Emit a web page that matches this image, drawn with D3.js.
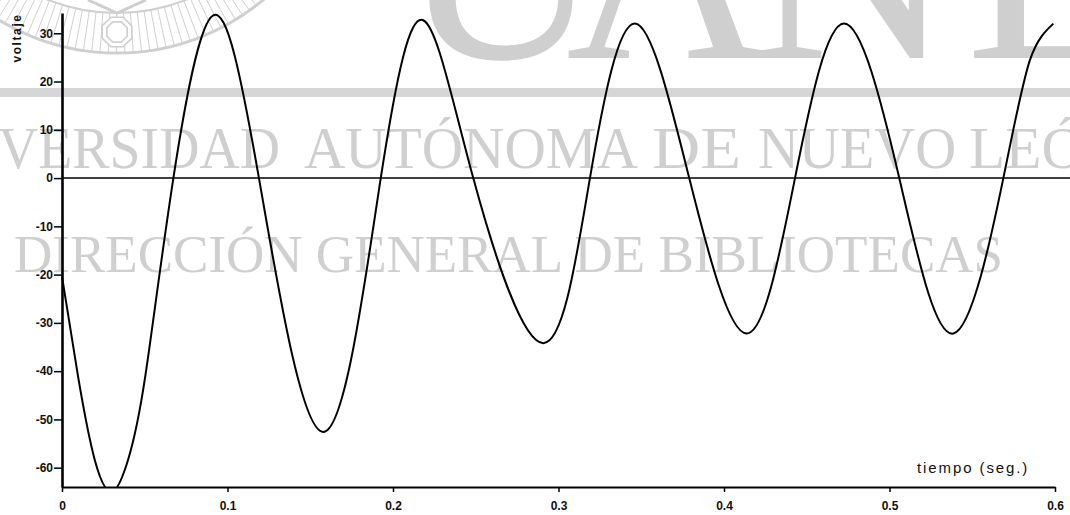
<!DOCTYPE html>
<html><head><meta charset="utf-8">
<script src="https://cdn.jsdelivr.net/npm/d3@7"></script>
<style>html,body{margin:0;padding:0;background:#fff;overflow:hidden}</style>
</head><body>
<svg id="chart" width="1070" height="515"></svg>
<script>
// ---- data ----
const tiempo = [0, 0.0097, 0.0198, 0.0302, 0.0399, 0.0503,
  0.0673, 0.0914, 0.1190, 0.1579, 0.1926, 0.2183, 0.2485, 0.2908, 0.3190,
  0.3462, 0.3790, 0.4137, 0.4429, 0.4725, 0.5059, 0.5386, 0.5688, 0.5849, 0.5990];
const voltaje = [-20.4, -41.1, -58.4, -65, -58.4, -41.1,
  0, 33.7, 0, -52.6, 0, 32.7, 0, -34.2, 0,
  32, 0, -32.2, 0, 32, 0, -32.2, 0, 24.5, 32];
const xTicks = [0, 0.1, 0.2, 0.3, 0.4, 0.5, 0.6];
const xTickLabels = ["0", "0.1", "0.2", "0.3", "0.4", "0.5", "0.6"];
const yTicks = [30, 20, 10, 0, -10, -20, -30, -40, -50, -60];
const yTickLabels = ["30", "20", "10", "0", "-10", "-20", "-30", "-40", "-50", "-60"];
const xTitle = "tiempo (seg.)";
const yTitle = "voltaje";
const watermarkLetters = ["U", "A", "N", "L"];
const watermarkLine1 = ["VERSIDAD", "AUTÓNOMA", "DE", "NUEVO", "LEÓN"];
const watermarkLine2 = "DIRECCIÓN GENERAL DE BIBLIOTECAS";

// ---- setup ----
const svg = d3.select("#chart");
const x = d3.scaleLinear().domain([0, 0.6]).range([62, 1055]);
const y = d3.scaleLinear().domain([-64, 34.2]).range([487, 13]);
const GRAY = "#cfcfcf";
const SERIF = "'Liberation Serif', 'DejaVu Serif', serif";

// ---- watermark ----
const wm = svg.append("g").attr("class", "watermark");
const ecx = 117, ecy = -174.6, rOut = 227.6, rIn = 187.6;
wm.append("circle").attr("cx", ecx).attr("cy", ecy).attr("r", rOut)
  .attr("fill", "none").attr("stroke", GRAY).attr("stroke-width", 3);
wm.append("circle").attr("cx", ecx).attr("cy", ecy).attr("r", rIn)
  .attr("fill", "none").attr("stroke", GRAY).attr("stroke-width", 2);
const rays = d3.range(-40, 40.1, 2.1);
wm.selectAll("line.ray").data(rays).join("line").attr("class", "ray")
  .attr("x1", d => ecx + rIn * Math.sin(d * Math.PI / 180))
  .attr("y1", d => ecy + rIn * Math.cos(d * Math.PI / 180))
  .attr("x2", d => ecx + rOut * Math.sin(d * Math.PI / 180))
  .attr("y2", d => ecy + rOut * Math.cos(d * Math.PI / 180))
  .attr("stroke", GRAY).attr("stroke-width", 1);
wm.append("path").attr("d", "M88,0 L117,13 L146,0").attr("fill", "none")
  .attr("stroke", GRAY).attr("stroke-width", 3);
function octagon(cx, cy, r) {
  return d3.range(8).map(i => {
    const a = Math.PI / 8 + i * Math.PI / 4;
    return [cx + r * Math.cos(a), cy + r * Math.sin(a)];
  });
}
wm.append("polygon").attr("points", octagon(117, 32, 16).join(" "))
  .attr("fill", "#fff").attr("stroke", GRAY).attr("stroke-width", 1.6);
wm.append("polygon").attr("points", octagon(117, 32, 11).join(" "))
  .attr("fill", "#fff").attr("stroke", GRAY).attr("stroke-width", 1.6);

const letterPos = [[501, "middle"], [667, "middle"], [852, "middle"], [966, "start"]];
wm.selectAll("text.big").data(watermarkLetters).join("text").attr("class", "big")
  .attr("x", (d, i) => letterPos[i][0]).attr("y", 58)
  .attr("text-anchor", (d, i) => letterPos[i][1])
  .attr("font-family", SERIF).attr("font-size", 280).attr("fill", GRAY).text(d => d);

wm.append("rect").attr("x", 0).attr("y", 88).attr("width", 1070).attr("height", 9)
  .attr("fill", "#d6d6d6");

const wordPos = [[-2, 282], [304, 334], [652, 89], [758, 198], [969, 158]];
wm.selectAll("text.l1").data(watermarkLine1).join("text").attr("class", "l1")
  .attr("x", (d, i) => wordPos[i][0]).attr("y", 168)
  .attr("textLength", (d, i) => wordPos[i][1]).attr("lengthAdjust", "spacingAndGlyphs")
  .attr("font-family", SERIF).attr("font-size", 60).attr("fill", GRAY).text(d => d);
wm.append("text").attr("x", 14).attr("y", 272)
  .attr("font-family", SERIF).attr("font-size", 52).attr("fill", GRAY)
  .attr("textLength", 989).attr("lengthAdjust", "spacingAndGlyphs")
  .text(watermarkLine2);

// ---- chart ----
const FONT = "'Liberation Sans', Arial, sans-serif";

svg.append("line").attr("x1", x(0)).attr("x2", 1070).attr("y1", y(0)).attr("y2", y(0))
  .attr("stroke", "#000").attr("stroke-width", 1.5);

const yAxis = svg.append("g").attr("transform", `translate(${x(0)},0)`)
  .call(d3.axisLeft(y).tickValues(yTicks).tickSize(8).tickSizeOuter(0).tickPadding(1)
    .tickFormat((d, i) => yTickLabels[i]));
yAxis.select(".domain").attr("stroke-width", 2.6);
yAxis.selectAll(".tick line").attr("stroke-width", 1.5);
yAxis.selectAll("text").attr("font-family", FONT).attr("font-size", 12)
  .attr("font-weight", "bold").attr("fill", "#111");

const xAxis = svg.append("g").attr("transform", `translate(0,${y(-64)})`)
  .call(d3.axisBottom(x).tickValues(xTicks).tickSize(5).tickSizeOuter(0).tickPadding(9)
    .tickFormat((d, i) => xTickLabels[i]));
xAxis.select(".domain").attr("stroke-width", 2);
xAxis.selectAll(".tick line").attr("stroke-width", 1.5);
xAxis.selectAll("text").attr("font-family", FONT).attr("font-size", 12)
  .attr("font-weight", "bold").attr("fill", "#111");

svg.append("text").attr("transform", "translate(21,38) rotate(-90)")
  .attr("text-anchor", "middle").attr("font-family", FONT).attr("font-size", 12)
  .attr("font-weight", "bold").attr("letter-spacing", 1.6).attr("fill", "#111").text(yTitle);
svg.append("text").attr("x", 917).attr("y", 473)
  .attr("font-family", FONT).attr("font-size", 15).attr("letter-spacing", 1.9)
  .attr("fill", "#111").text(xTitle);

svg.append("clipPath").attr("id", "plotclip").append("rect")
  .attr("x", 0).attr("y", 0).attr("width", 1070).attr("height", y(-64));
const pts = tiempo.map((t, i) => [t, voltaje[i]]);
const line = d3.line().x(d => x(d[0])).y(d => y(d[1])).curve(d3.curveNatural);
svg.append("path").datum(pts).attr("d", line).attr("clip-path", "url(#plotclip)")
  .attr("fill", "none").attr("stroke", "#000").attr("stroke-width", 2);
</script>
</body></html>
